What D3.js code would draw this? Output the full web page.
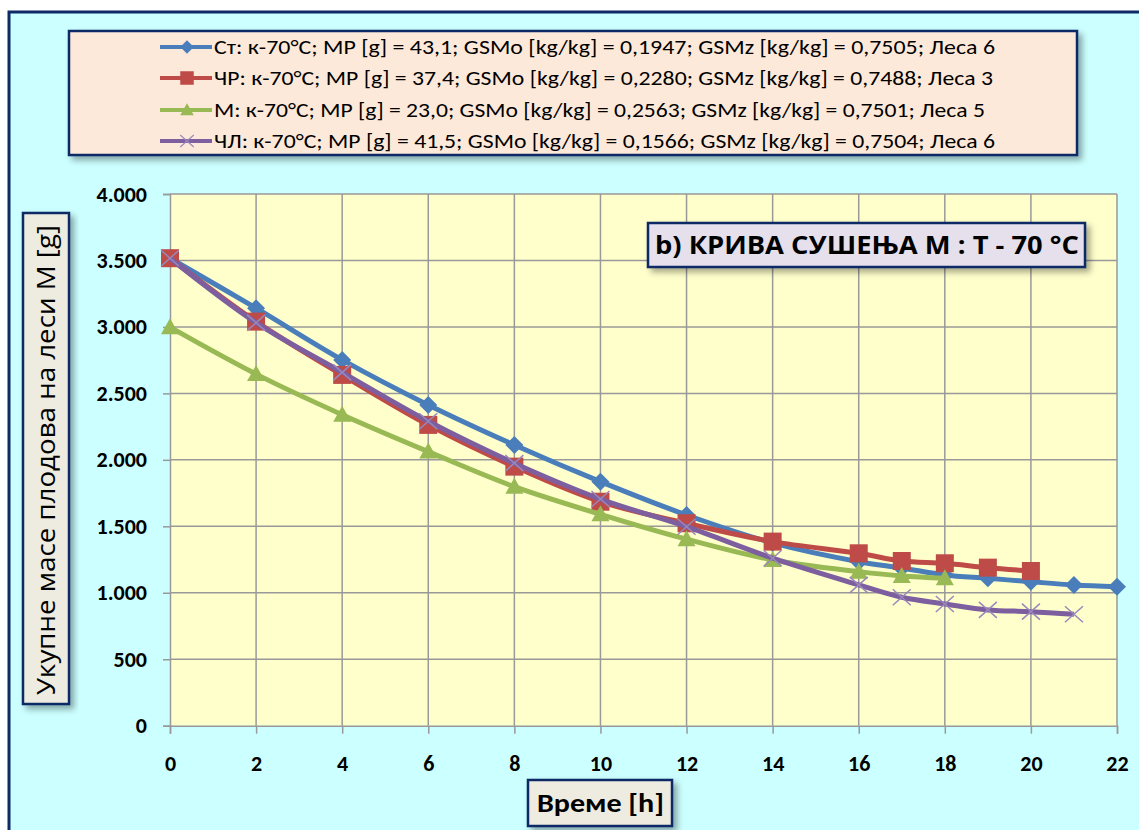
<!DOCTYPE html>
<html>
<head>
<meta charset="utf-8">
<style>
  body { margin: 0; background: #fff; }
  svg text { font-family: Carlito, Lato, "Open Sans", sans-serif; font-weight: bold; }
</style>
<script src="https://d3js.org/d3.v7.min.js"></script>
</head>
<body>
<div id="chart"></div>
<script>
// --- data ---
var seriesNames = [
  "Ст: к-70°C; MP [g] = 43,1; GSMo [kg/kg] = 0,1947; GSMz [kg/kg] = 0,7505; Леса 6",
  "ЧР: к-70°C; MP [g] = 37,4; GSMo [kg/kg] = 0,2280; GSMz [kg/kg] = 0,7488; Леса 3",
  "M: к-70°C; MP [g] = 23,0; GSMo [kg/kg] = 0,2563; GSMz [kg/kg] = 0,7501; Леса 5",
  "ЧЛ: к-70°C; MP [g] = 41,5; GSMo [kg/kg] = 0,1566; GSMz [kg/kg] = 0,7504; Леса 6"
];
var stTime = [0, 2, 4, 6, 8, 10, 12, 14, 16, 17, 18, 19, 20, 21, 22];
var stMass = [3517, 3141, 2752, 2413, 2112, 1836, 1585, 1375, 1234, 1187, 1134, 1109, 1083, 1059, 1046];
var chrTime = [0, 2, 4, 6, 8, 10, 12, 14, 16, 17, 18, 19, 20];
var chrMass = [3517, 3040, 2639, 2263, 1949, 1685, 1523, 1385, 1297, 1239, 1222, 1189, 1164];
var mTime = [0, 2, 4, 6, 8, 10, 12, 14, 16, 17, 18];
var mMass = [2998, 2645, 2340, 2062, 1798, 1590, 1403, 1247, 1159, 1126, 1109];
var chlTime = [0, 2, 4, 6, 8, 10, 12, 14, 16, 17, 18, 19, 20, 21];
var chlMass = [3517, 3032, 2658, 2290, 1975, 1705, 1497, 1260, 1059, 966, 916, 871, 858, 838];
var xTicks = [0, 2, 4, 6, 8, 10, 12, 14, 16, 18, 20, 22];
var yTicks = [0, 500, 1000, 1500, 2000, 2500, 3000, 3500, 4000];
var titleText = "b) КРИВА СУШЕЊА M :  T - 70 °C";
var yLabel = "Укупне масе плодова на леси M [g]";
var xLabel = "Време [h]";

var colors = ["#4a7ebb", "#be4b48", "#98b954", "#7d5fa0"];
var markerTypes = ["diamond", "square", "triangle", "cross"];
var series = [
  { time: stTime, mass: stMass },
  { time: chrTime, mass: chrMass },
  { time: mTime, mass: mMass },
  { time: chlTime, mass: chlMass }
];

var width = 1139, height = 830;
var svg = d3.select("#chart").append("svg")
  .attr("width", width).attr("height", height);

var defs = svg.append("defs");
var f = defs.append("filter").attr("id", "shadow")
  .attr("x", "-10%").attr("y", "-10%").attr("width", "130%").attr("height", "140%");
f.append("feDropShadow").attr("dx", 4).attr("dy", 4).attr("stdDeviation", 3)
  .attr("flood-color", "#000").attr("flood-opacity", 0.35);

// outer frame
svg.append("rect").attr("x", 9).attr("y", 12).attr("width", width + 20).attr("height", height + 20)
  .attr("fill", "#ccffff").attr("stroke", "#0d2a66").attr("stroke-width", 3);

var x = d3.scaleLinear().domain([0, 22]).range([170, 1117]);
var y = d3.scaleLinear().domain([0, 4000]).range([725.7, 194]);

// plot area
svg.append("rect").attr("x", x(0)).attr("y", y(4000))
  .attr("width", x(22) - x(0)).attr("height", y(0) - y(4000))
  .attr("fill", "#ffffcc");

// grid
svg.append("g").selectAll("line").data(xTicks.slice(1)).join("line")
  .attr("x1", d => x(d)).attr("x2", d => x(d))
  .attr("y1", y(4000)).attr("y2", y(0))
  .attr("stroke", "#999").attr("stroke-width", 1.5);
svg.append("g").selectAll("line").data(yTicks.slice(1)).join("line")
  .attr("x1", x(0)).attr("x2", x(22))
  .attr("y1", d => y(d)).attr("y2", d => y(d))
  .attr("stroke", "#999").attr("stroke-width", 1.5);

// axes
var fmt = d3.format(",");
var yAxis = svg.append("g").attr("transform", "translate(" + x(0) + ",0)")
  .call(d3.axisLeft(y).tickValues(yTicks).tickSize(7).tickPadding(16)
    .tickFormat(d => fmt(d).replace(",", ".")));
var xAxis = svg.append("g").attr("transform", "translate(0," + y(0) + ")")
  .call(d3.axisBottom(x).tickValues(xTicks).tickSize(8).tickPadding(22));
[xAxis, yAxis].forEach(function (g) {
  g.selectAll("path, line").attr("stroke", "#999").attr("stroke-width", 1.5);
  g.selectAll("text").attr("font-size", 22).attr("fill", "#000")
    .style("font-family", "Carlito, Lato, 'Open Sans', sans-serif").style("font-weight", "bold");
});

// markers
function drawMarker(g, type, color) {
  if (type === "diamond") {
    g.append("path").attr("d", "M0,-9L9,0L0,9L-9,0Z").attr("fill", color);
  } else if (type === "square") {
    g.append("rect").attr("x", -9).attr("y", -9).attr("width", 18).attr("height", 18).attr("fill", color);
  } else if (type === "triangle") {
    g.append("path").attr("d", "M0,-9L9,7L-9,7Z").attr("fill", color);
  } else {
    g.append("path").attr("d", "M-9,-8L9,8M-9,8L9,-8")
      .attr("stroke", "#9a87bb").attr("stroke-width", 1.5).attr("fill", "none");
  }
}

var line = d3.line().curve(d3.curveCatmullRom.alpha(0.5))
  .x(d => x(d[0])).y(d => y(d[1]));

series.forEach(function (s, i) {
  var pts = s.time.map((t, j) => [t, s.mass[j]]);
  var g = svg.append("g");
  g.append("path").datum(pts).attr("d", line)
    .attr("fill", "none").attr("stroke", colors[i]).attr("stroke-width", 5)
    .attr("stroke-linejoin", "round");
  g.selectAll("g.m").data(pts).join("g").attr("class", "m")
    .attr("transform", d => "translate(" + x(d[0]) + "," + y(d[1]) + ")")
    .each(function () { drawMarker(d3.select(this), markerTypes[i], colors[i]); });
});

// legend
var lg = svg.append("g");
lg.append("rect").attr("x", 69).attr("y", 31).attr("width", 1008).attr("height", 124)
  .attr("fill", "#fde9d9").attr("stroke", "#0d2a66").attr("stroke-width", 2.5)
  .attr("filter", "url(#shadow)");
var legendY = [47, 78, 110, 141];
var legendEnd = [995, 993, 985, 995];
seriesNames.forEach(function (name, i) {
  var row = lg.append("g").attr("transform", "translate(0," + legendY[i] + ")");
  row.append("line").attr("x1", 160).attr("x2", 212).attr("y1", 0).attr("y2", 0)
    .attr("stroke", colors[i]).attr("stroke-width", 4);
  var m = row.append("g").attr("transform", "translate(187,0) scale(0.75)");
  drawMarker(m, markerTypes[i], colors[i]);
  row.append("text").attr("x", 214).attr("y", 7).attr("font-size", 20)
    .style("font-weight", "normal")
    .attr("textLength", legendEnd[i] - 214).attr("lengthAdjust", "spacingAndGlyphs")
    .text(name);
});

// title box
svg.append("rect").attr("x", 648).attr("y", 223).attr("width", 437).attr("height", 44)
  .attr("fill", "#e5e0ec").attr("stroke", "#0d2a66").attr("stroke-width", 2.5)
  .attr("filter", "url(#shadow)");
svg.append("text").attr("x", 655).attr("y", 254)
  .attr("font-size", 25).style("font-family", "'Open Sans', 'DejaVu Sans', sans-serif")
  .attr("textLength", 424).attr("lengthAdjust", "spacingAndGlyphs")
  .text(titleText);

// y label box
svg.append("rect").attr("x", 23).attr("y", 213).attr("width", 46).attr("height", 491)
  .attr("fill", "#eeece1").attr("stroke", "#0d2a66").attr("stroke-width", 2.5)
  .attr("filter", "url(#shadow)");
svg.append("text").attr("transform", "translate(55,695) rotate(-90)")
  .attr("font-size", 25).style("font-family", "'Open Sans', 'DejaVu Sans', sans-serif")
  .style("font-weight", "normal")
  .attr("textLength", 470).attr("lengthAdjust", "spacingAndGlyphs")
  .text(yLabel);

// x label box
svg.append("rect").attr("x", 528).attr("y", 780).attr("width", 144).attr("height", 46)
  .attr("fill", "#eeece1").attr("stroke", "#0d2a66").attr("stroke-width", 2.5)
  .attr("filter", "url(#shadow)");
svg.append("text").attr("x", 537).attr("y", 812)
  .attr("font-size", 27).style("font-weight", 600)
  .attr("textLength", 127).attr("lengthAdjust", "spacingAndGlyphs")
  .text(xLabel);
</script>
</body>
</html>
